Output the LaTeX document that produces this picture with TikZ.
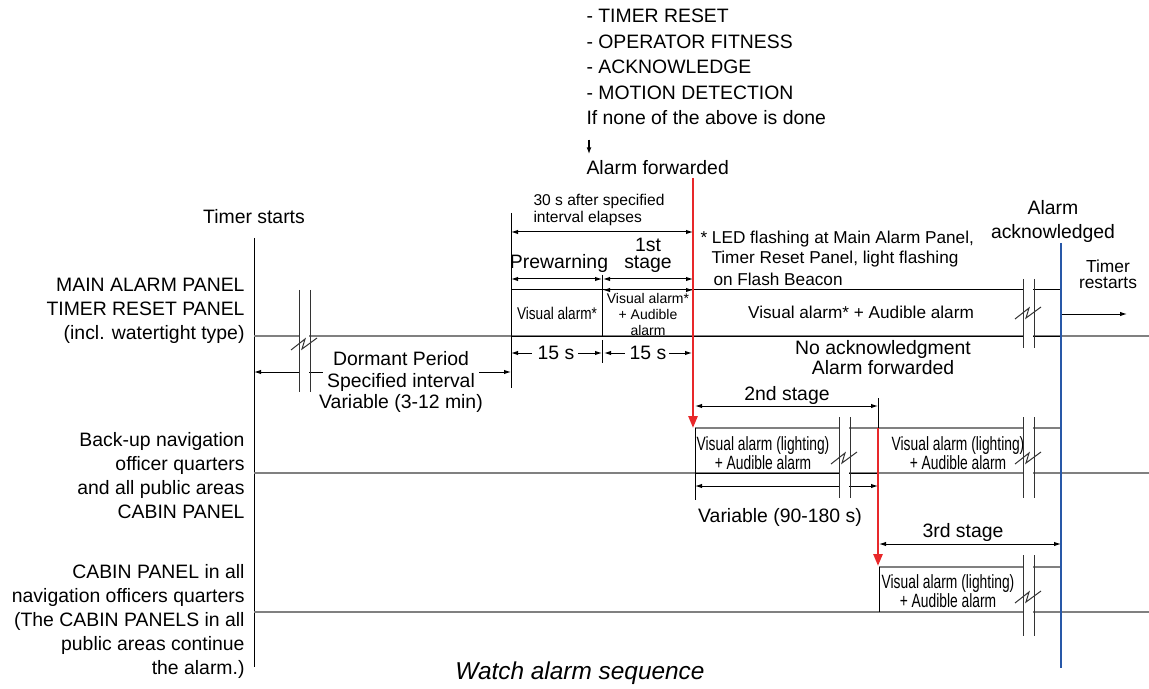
\documentclass[tikz,border=0pt]{standalone}
\usepackage{fontspec}
\setmainfont{Liberation Sans}
\newfontfamily\narrowfont[FakeStretch=0.8]{Liberation Sans}
\newfontfamily\condfont[FakeStretch=0.72]{Liberation Sans}
\usetikzlibrary{arrows.meta,positioning,calc}
\definecolor{tlgray}{RGB}{128,128,128}
\definecolor{fwdred}{RGB}{232,40,42}
\definecolor{ackblue}{RGB}{40,88,168}

% break mark on a time line: left bar x, top y, bottom y, zigzag y
\newcommand{\timebreak}[4]{%
  \fill[white] (#1+1,#2) rectangle (#1+10,#3);
  \draw[brk] (#1,#2) -- (#1,#3) (#1+11,#2) -- (#1+11,#3);
  \draw[brk, line join=miter] (#1-8,#4+6) -- (#1+6,#4-5) -- (#1+3,#4+5) -- (#1+18,#4-6);
}

\begin{document}
\begin{tikzpicture}[
    x=0.5pt, y=-0.5pt, line width=0.5pt,
    >={Latex[length=3.5pt,width=2.2pt]},
    txt/.style={font=\fontsize{9.7}{12}\selectfont, inner sep=0pt, align=center},
    note/.style={font=\fontsize{8.6}{10}\selectfont, inner sep=0pt},
    tiny/.style={font=\fontsize{7.8}{8.6}\selectfont, inner sep=0pt, align=left},
    boxtxt/.style={font=\fontsize{7}{8}\selectfont, inner sep=0pt, align=center},
    nartxt/.style={font=\narrowfont\fontsize{8.5}{9}\selectfont, inner sep=0pt},
    condtxt/.style={font=\condfont\fontsize{9.6}{9.5}\selectfont, inner sep=0pt, align=center},
    tline/.style={draw=tlgray, line width=0.6pt},
    brk/.style={draw=black!80, line width=0.5pt},
    fwd/.style={draw=fwdred, line width=1.3pt, -{Triangle[length=6pt,width=4.5pt]}},
    ack/.style={draw=ackblue, line width=1.1pt}
  ]
  \useasboundingbox (0,0) rectangle (1149,689);

  % conditions on top
  \node[txt, anchor=west] (cond1) at (586,16) {- TIMER RESET};
  \node[txt, anchor=west] (cond2) at (586,42) {- OPERATOR FITNESS};
  \node[txt, anchor=west] (cond3) at (586,67) {- ACKNOWLEDGE};
  \node[txt, anchor=west] (cond4) at (586,93) {- MOTION DETECTION};
  \node[txt, anchor=west] (none) at (586,118) {If none of the above is done};
  \node[txt, anchor=west] (fwdtxt) at (586,168) {Alarm forwarded};
  \draw[line width=0.7pt, -{Latex[length=3.5pt,width=2.4pt]}] ($(none.south west)+(3,14)$) -- ($(fwdtxt.north west)+(3,-6)$);

  % panels
  \node[txt, align=right, anchor=east] (mainp) at (245,311)
    {MAIN ALARM PANEL\\TIMER RESET PANEL\\(incl. watertight type)};
  \node[txt, align=right, anchor=east] (backp) at (245,476)
    {Back-up navigation\\officer quarters\\and all public areas\\CABIN PANEL};
  \node[txt, align=right, anchor=east, font=\fontsize{9.7}{12.1}\selectfont] (cabinp) at (245,621.5)
    {CABIN PANEL in all\\navigation officers quarters\\(The CABIN PANELS in all\\public areas continue\\the alarm.)};

  % time axis and time lines
  \node[txt] (tstart) at (254,217) {Timer starts};
  \coordinate (axtop) at (254,238);
  \coordinate (axbot) at (254,667);
  \draw (axtop) -- (axbot);
  \coordinate (row1) at (254,336);  \coordinate (row1e) at (1149,336);
  \coordinate (row2) at (254,473);  \coordinate (row2e) at (1149,473);
  \coordinate (row3) at (254,612);  \coordinate (row3e) at (1149,612);
  \draw[tline] (row1) -- (row1e);
  \draw[tline] (row2) -- (row2e);
  \draw[tline] (row3) -- (row3e);

  % alarm bands
  \draw (511,290) -- (1061,290);
  \draw (511,336) -- (1061,336);
  \draw (695,473) -- (878,473);
  \draw[tline] (695,428) -- (1061,428);
  \draw[tline] (879,567) -- (1061,567);
  \draw (511,213) -- (511,388);
  \draw (602,275) -- (602,336);
  \draw (602,340) -- (602,363);
  \draw (695,428) -- (695,500);
  \draw (878,398) -- (878,428);
  \draw (879,567) -- (879,612);

  % dormant period
  \coordinate (dorm0) at (254,372);
  \coordinate (dorm1) at (323,372);
  \coordinate (dorm2) at (479,372);
  \coordinate (dorm3) at (511,372);
  \draw[<-] (dorm0) -- (dorm1);
  \draw[->] (dorm2) -- (dorm3);
  \node[txt, font=\fontsize{9.7}{10.75}\selectfont] (dormant) at (401,382)
    {Dormant Period\\Specified interval\\Variable (3-12 min)};

  % prewarning and 1st stage
  \coordinate (pw30) at (511,232);
  \coordinate (fw30) at (693,232);
  \draw[<->] (pw30) -- (fw30);
  \node[tiny, anchor=west] (thirty) at (533,210) {30 s after specified\\interval elapses};
  \coordinate (pwa) at (511,279);
  \coordinate (pwb) at (602,279);
  \coordinate (sta) at (603,279);
  \coordinate (stb) at (693,279);
  \draw[<->] (pwa) -- (pwb);
  \draw[<->] (sta) -- (stb);
  \node[txt] (prewarn) at (559,263) {Prewarning};
  \node[txt, font=\fontsize{9.7}{8.5}\selectfont] (first) at (648,255) {1st\\stage};
  \coordinate (stc) at (603,290);
  \coordinate (std) at (693,290);
  \draw[<->] (stc) -- (std);
  \node[nartxt] (vis0) at (557,313) {Visual alarm*};
  \node[boxtxt] (vis1) at (648,314) {Visual alarm*\\+ Audible\\alarm};
  \coordinate (fa) at (511,353);  \coordinate (fb) at (532,353);
  \coordinate (fc) at (578,353);  \coordinate (fd) at (602,353);
  \coordinate (fe) at (604,353);  \coordinate (ff) at (625,353);
  \coordinate (fg) at (669,353);  \coordinate (fh) at (692,353);
  \draw[<-] (fa) -- (fb);
  \draw[->] (fc) -- (fd);
  \draw[<-] (fe) -- (ff);
  \draw[->] (fg) -- (fh);
  \node[txt] (pw15) at (556,353) {15 s};
  \node[txt] (st15) at (648,353) {15 s};

  % main alarm after forwarding
  \node[note, anchor=west] (led1) at (700,239) {* LED flashing at Main Alarm Panel,};
  \node[note, anchor=west] (led2) at (711,259) {Timer Reset Panel, light flashing};
  \node[note, anchor=west] (led3) at (713,279) {on Flash Beacon};
  \node[note] (vis2) at (861,312) {Visual alarm* + Audible alarm};
  \node[txt, font=\fontsize{9.7}{10}\selectfont] (noack) at (883,358) {No acknowledgment\\Alarm forwarded};
  \node[txt] (acked) at (1053,221) {Alarm\\acknowledged};
  \node[note, align=center, font=\fontsize{8.7}{8}\selectfont] (restart) at (1108,274) {Timer\\restarts};
  \coordinate (rsa) at (1062,314);
  \coordinate (rsb) at (1127,314);
  \draw[->] (rsa) -- (rsb);

  % 2nd stage
  \coordinate (s2a) at (695,406);
  \coordinate (s2b) at (878,406);
  \draw[<->] (s2a) -- (s2b);
  \node[txt] (second) at (787,395) {2nd stage};
  \node[condtxt] (vis3) at (763,453) {Visual alarm (lighting)\\+ Audible alarm};
  \node[condtxt] (vis4) at (958,453) {Visual alarm (lighting)\\+ Audible alarm};
  \coordinate (va) at (695,486);
  \coordinate (vb) at (878,486);
  \draw[<->] (va) -- (vb);
  \node[txt] (var2) at (780,517) {Variable (90-180 s)};

  % 3rd stage
  \coordinate (s3a) at (879,544);
  \coordinate (s3b) at (1061,544);
  \draw[<->] (s3a) -- (s3b);
  \node[txt] (third) at (963,532) {3rd stage};
  \node[condtxt] (vis5) at (948,591) {Visual alarm (lighting)\\+ Audible alarm};

  % breaks
  \timebreak{299}{290}{392}{344}
  \timebreak{1023}{279}{348}{313}
  \timebreak{839}{417}{498}{458}
  \timebreak{1023}{417}{498}{458}
  \timebreak{1023}{555}{636}{597}

  % forwarding and acknowledge
  \coordinate (fw1a) at (693,178);
  \coordinate (fw1b) at (693,428);
  \coordinate (fw2a) at (878,428);
  \coordinate (fw2b) at (878,566);
  \draw[fwd] (fw1a) -- (fw1b);
  \draw[fwd] (fw2a) -- (fw2b);
  \coordinate (acka) at (1061,243);
  \coordinate (ackb) at (1061,668);
  \draw[ack] (acka) -- (ackb);

  \node[font=\fontsize{12.2}{14}\selectfont\itshape, inner sep=0pt] (caption) at (580,673) {Watch alarm sequence};
\end{tikzpicture}
\end{document}
